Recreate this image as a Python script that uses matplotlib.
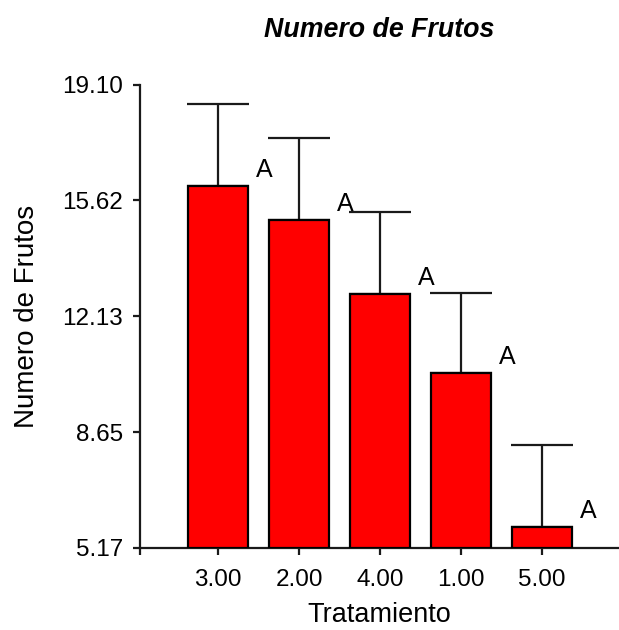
import numpy as np
import matplotlib.pyplot as plt

plt.rcParams['font.family'] = ['Liberation Sans', 'DejaVu Sans']

tratamientos = ['3.00', '2.00', '4.00', '1.00', '5.00']
medias = [16.04, 15.03, 12.80, 10.43, 5.79]
errores = [2.47, 2.46, 2.46, 2.41, 2.47]
letras = ['A', 'A', 'A', 'A', 'A']
yticks = [5.17, 8.65, 12.13, 15.62, 19.10]

fig = plt.figure(figsize=(6.19, 6.30), dpi=100)
ax = fig.add_axes([140/619, 1 - 548/630, 1 - 140/619, (548 - 84.5)/630])

x = np.arange(len(tratamientos))
base = yticks[0]
alturas = np.array(medias) - base
ax.bar(x, alturas, bottom=base, width=0.74, color='#ff0000',
       edgecolor='black', linewidth=1.6, zorder=3)
ax.errorbar(x, medias, yerr=[np.zeros(len(x)), errores], fmt='none',
            ecolor='#1a1a1a', elinewidth=1.6, capsize=22.5, capthick=1.6,
            zorder=2)

# letras de significancia
for i, (m, l) in enumerate(zip(medias, letras)):
    ax.annotate(l, xy=(i + 0.37, m), xytext=(5.5, 3),
                textcoords='offset points', ha='left', va='bottom',
                fontsize=18)

ax.set_xlim(-0.963, 4.95)
ax.set_ylim(base, 19.10)
ax.set_xticks(x)
ax.set_xticklabels(tratamientos)
ax.set_xticks([-0.963], minor=True)
ax.set_yticks(yticks)
ax.set_yticklabels(['%.2f' % v for v in yticks])

for s in ['top', 'right']:
    ax.spines[s].set_visible(False)
for s in ['left', 'bottom']:
    ax.spines[s].set_linewidth(1.6)
    ax.spines[s].set_color('#1a1a1a')

ax.tick_params(axis='both', which='both', length=5, width=1.6,
               color='#1a1a1a', labelsize=17.5)
ax.tick_params(axis='y', pad=7)
ax.tick_params(axis='x', pad=10)

ax.set_xlabel('Tratamiento', fontsize=19.5, labelpad=8)
ax.set_ylabel('Numero de Frutos', fontsize=20, labelpad=16)
ax.set_title('Numero de Frutos', fontsize=19.3, fontweight='bold',
             fontstyle='italic', pad=34)

fig.savefig('out.png', dpi=100)
